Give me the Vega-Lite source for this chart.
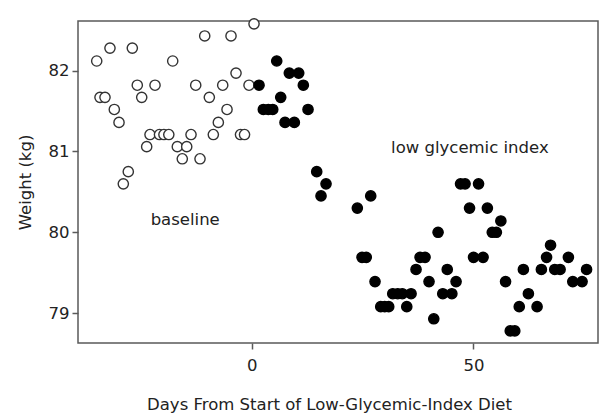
{
  "$schema": "https://vega.github.io/schema/vega-lite/v6.json",
  "width": 520,
  "height": 322,
  "autosize": "none",
  "padding": {"left": 78, "top": 21, "right": 2, "bottom": 71},
  "background": "white",
  "config": {
    "view": {"stroke": "#5a5a5a", "strokeWidth": 1.5},
    "font": "DejaVu Sans"
  },
  "datasets": {
    "pts": [
      {"day": -34.96, "weight": 82.12, "phase": "baseline"},
      {"day": -34.22, "weight": 81.67, "phase": "baseline"},
      {"day": -33.09, "weight": 81.67, "phase": "baseline"},
      {"day": -31.97, "weight": 82.28, "phase": "baseline"},
      {"day": -30.99, "weight": 81.52, "phase": "baseline"},
      {"day": -29.93, "weight": 81.36, "phase": "baseline"},
      {"day": -28.96, "weight": 80.60, "phase": "baseline"},
      {"day": -27.84, "weight": 80.75, "phase": "baseline"},
      {"day": -26.93, "weight": 82.28, "phase": "baseline"},
      {"day": -25.81, "weight": 81.82, "phase": "baseline"},
      {"day": -24.81, "weight": 81.67, "phase": "baseline"},
      {"day": -23.69, "weight": 81.06, "phase": "baseline"},
      {"day": -22.94, "weight": 81.21, "phase": "baseline"},
      {"day": -21.81, "weight": 81.82, "phase": "baseline"},
      {"day": -20.8, "weight": 81.21, "phase": "baseline"},
      {"day": -19.8, "weight": 81.21, "phase": "baseline"},
      {"day": -18.7, "weight": 81.21, "phase": "baseline"},
      {"day": -17.82, "weight": 82.12, "phase": "baseline"},
      {"day": -16.78, "weight": 81.06, "phase": "baseline"},
      {"day": -15.66, "weight": 80.91, "phase": "baseline"},
      {"day": -14.66, "weight": 81.06, "phase": "baseline"},
      {"day": -13.69, "weight": 81.21, "phase": "baseline"},
      {"day": -12.63, "weight": 81.82, "phase": "baseline"},
      {"day": -11.66, "weight": 80.91, "phase": "baseline"},
      {"day": -10.6, "weight": 82.43, "phase": "baseline"},
      {"day": -9.56, "weight": 81.67, "phase": "baseline"},
      {"day": -8.66, "weight": 81.21, "phase": "baseline"},
      {"day": -7.53, "weight": 81.36, "phase": "baseline"},
      {"day": -6.54, "weight": 81.82, "phase": "baseline"},
      {"day": -5.57, "weight": 81.52, "phase": "baseline"},
      {"day": -4.67, "weight": 82.43, "phase": "baseline"},
      {"day": -3.54, "weight": 81.97, "phase": "baseline"},
      {"day": -2.53, "weight": 81.21, "phase": "baseline"},
      {"day": -1.62, "weight": 81.21, "phase": "baseline"},
      {"day": -0.61, "weight": 81.82, "phase": "baseline"},
      {"day": 0.52, "weight": 82.58, "phase": "baseline"},
      {"day": 1.65, "weight": 81.82, "phase": "low glycemic index"},
      {"day": 2.62, "weight": 81.52, "phase": "low glycemic index"},
      {"day": 3.74, "weight": 81.52, "phase": "low glycemic index"},
      {"day": 4.74, "weight": 81.52, "phase": "low glycemic index"},
      {"day": 5.64, "weight": 82.12, "phase": "low glycemic index"},
      {"day": 6.54, "weight": 81.67, "phase": "low glycemic index"},
      {"day": 7.51, "weight": 81.36, "phase": "low glycemic index"},
      {"day": 8.48, "weight": 81.97, "phase": "low glycemic index"},
      {"day": 9.61, "weight": 81.36, "phase": "low glycemic index"},
      {"day": 10.6, "weight": 81.97, "phase": "low glycemic index"},
      {"day": 11.64, "weight": 81.82, "phase": "low glycemic index"},
      {"day": 12.7, "weight": 81.52, "phase": "low glycemic index"},
      {"day": 14.66, "weight": 80.75, "phase": "low glycemic index"},
      {"day": 15.63, "weight": 80.45, "phase": "low glycemic index"},
      {"day": 16.76, "weight": 80.60, "phase": "low glycemic index"},
      {"day": 23.82, "weight": 80.30, "phase": "low glycemic index"},
      {"day": 24.88, "weight": 79.69, "phase": "low glycemic index"},
      {"day": 25.83, "weight": 79.69, "phase": "low glycemic index"},
      {"day": 26.84, "weight": 80.45, "phase": "low glycemic index"},
      {"day": 27.81, "weight": 79.39, "phase": "low glycemic index"},
      {"day": 29.1, "weight": 79.08, "phase": "low glycemic index"},
      {"day": 30.0, "weight": 79.08, "phase": "low glycemic index"},
      {"day": 30.9, "weight": 79.08, "phase": "low glycemic index"},
      {"day": 31.81, "weight": 79.24, "phase": "low glycemic index"},
      {"day": 32.93, "weight": 79.24, "phase": "low glycemic index"},
      {"day": 33.97, "weight": 79.24, "phase": "low glycemic index"},
      {"day": 34.97, "weight": 79.08, "phase": "low glycemic index"},
      {"day": 35.94, "weight": 79.24, "phase": "low glycemic index"},
      {"day": 37.06, "weight": 79.54, "phase": "low glycemic index"},
      {"day": 37.97, "weight": 79.69, "phase": "low glycemic index"},
      {"day": 39.09, "weight": 79.69, "phase": "low glycemic index"},
      {"day": 39.99, "weight": 79.39, "phase": "low glycemic index"},
      {"day": 41.06, "weight": 78.93, "phase": "low glycemic index"},
      {"day": 42.03, "weight": 80.00, "phase": "low glycemic index"},
      {"day": 43.09, "weight": 79.24, "phase": "low glycemic index"},
      {"day": 44.1, "weight": 79.54, "phase": "low glycemic index"},
      {"day": 45.14, "weight": 79.24, "phase": "low glycemic index"},
      {"day": 46.09, "weight": 79.39, "phase": "low glycemic index"},
      {"day": 47.1, "weight": 80.60, "phase": "low glycemic index"},
      {"day": 48.12, "weight": 80.60, "phase": "low glycemic index"},
      {"day": 49.13, "weight": 80.30, "phase": "low glycemic index"},
      {"day": 50.03, "weight": 79.69, "phase": "low glycemic index"},
      {"day": 51.16, "weight": 80.60, "phase": "low glycemic index"},
      {"day": 52.18, "weight": 79.69, "phase": "low glycemic index"},
      {"day": 53.15, "weight": 80.30, "phase": "low glycemic index"},
      {"day": 54.25, "weight": 80.00, "phase": "low glycemic index"},
      {"day": 55.18, "weight": 80.00, "phase": "low glycemic index"},
      {"day": 56.19, "weight": 80.14, "phase": "low glycemic index"},
      {"day": 57.25, "weight": 79.39, "phase": "low glycemic index"},
      {"day": 58.31, "weight": 78.78, "phase": "low glycemic index"},
      {"day": 59.33, "weight": 78.78, "phase": "low glycemic index"},
      {"day": 60.34, "weight": 79.08, "phase": "low glycemic index"},
      {"day": 61.27, "weight": 79.54, "phase": "low glycemic index"},
      {"day": 62.4, "weight": 79.24, "phase": "low glycemic index"},
      {"day": 64.36, "weight": 79.08, "phase": "low glycemic index"},
      {"day": 65.33, "weight": 79.54, "phase": "low glycemic index"},
      {"day": 66.5, "weight": 79.69, "phase": "low glycemic index"},
      {"day": 67.4, "weight": 79.84, "phase": "low glycemic index"},
      {"day": 68.35, "weight": 79.54, "phase": "low glycemic index"},
      {"day": 69.55, "weight": 79.54, "phase": "low glycemic index"},
      {"day": 71.42, "weight": 79.69, "phase": "low glycemic index"},
      {"day": 72.41, "weight": 79.39, "phase": "low glycemic index"},
      {"day": 74.51, "weight": 79.39, "phase": "low glycemic index"},
      {"day": 75.52, "weight": 79.54, "phase": "low glycemic index"}
    ],
    "notes": [
      {"label": "baseline", "day": -15.0, "weight": 80.15},
      {"label": "low glycemic index", "day": 49.2, "weight": 81.04}
    ]
  },
  "layer": [
    {
      "data": {"name": "pts"},
      "mark": {"type": "point", "shape": "circle", "filled": true, "size": 105, "strokeWidth": 1.4, "opacity": 1},
      "encoding": {
        "x": {
          "field": "day", "type": "quantitative",
          "scale": {"domain": [-39.18, 78.1], "nice": false, "zero": false},
          "axis": {
            "title": "Days From Start of Low-Glycemic-Index Diet",
            "values": [0, 50], "format": "d", "grid": false, "domain": false,
            "tickColor": "#5a5a5a", "tickSize": 6, "tickWidth": 1.5,
            "labelFont": "DejaVu Sans", "labelFontSize": 16.5, "labelColor": "#222", "labelPadding": 8,
            "titleFont": "DejaVu Sans", "titleFontSize": 16.5, "titleFontWeight": "normal", "titleColor": "#222",
            "titleX": 251, "titleY": 66, "titleBaseline": "alphabetic", "titleAlign": "center", "titleAnchor": null
          }
        },
        "y": {
          "field": "weight", "type": "quantitative",
          "scale": {"domain": [78.63, 82.615], "nice": false, "zero": false},
          "axis": {
            "title": "Weight (kg)",
            "values": [79, 80, 81, 82], "format": "d", "grid": false, "domain": false,
            "tickColor": "#5a5a5a", "tickSize": 6, "tickWidth": 1.5,
            "labelFont": "DejaVu Sans", "labelFontSize": 16.5, "labelColor": "#222", "labelPadding": 3,
            "titleFont": "DejaVu Sans", "titleFontSize": 16.5, "titleFontWeight": "normal", "titleColor": "#222",
            "titleX": -53, "titleY": 161, "titleAngle": -90, "titleBaseline": "middle", "titleAlign": "center", "titleAnchor": null
          }
        },
        "fill": {
          "field": "phase", "type": "nominal",
          "scale": {"domain": ["baseline", "low glycemic index"], "range": ["white", "black"]},
          "legend": null
        },
        "stroke": {
          "field": "phase", "type": "nominal",
          "scale": {"domain": ["baseline", "low glycemic index"], "range": ["#333333", "black"]},
          "legend": null
        }
      }
    },
    {
      "data": {"name": "notes"},
      "mark": {"type": "text", "font": "DejaVu Sans", "fontSize": 16.5, "color": "#222", "align": "center", "baseline": "middle"},
      "encoding": {
        "x": {"field": "day", "type": "quantitative"},
        "y": {"field": "weight", "type": "quantitative"},
        "text": {"field": "label", "type": "nominal"}
      }
    }
  ]
}
